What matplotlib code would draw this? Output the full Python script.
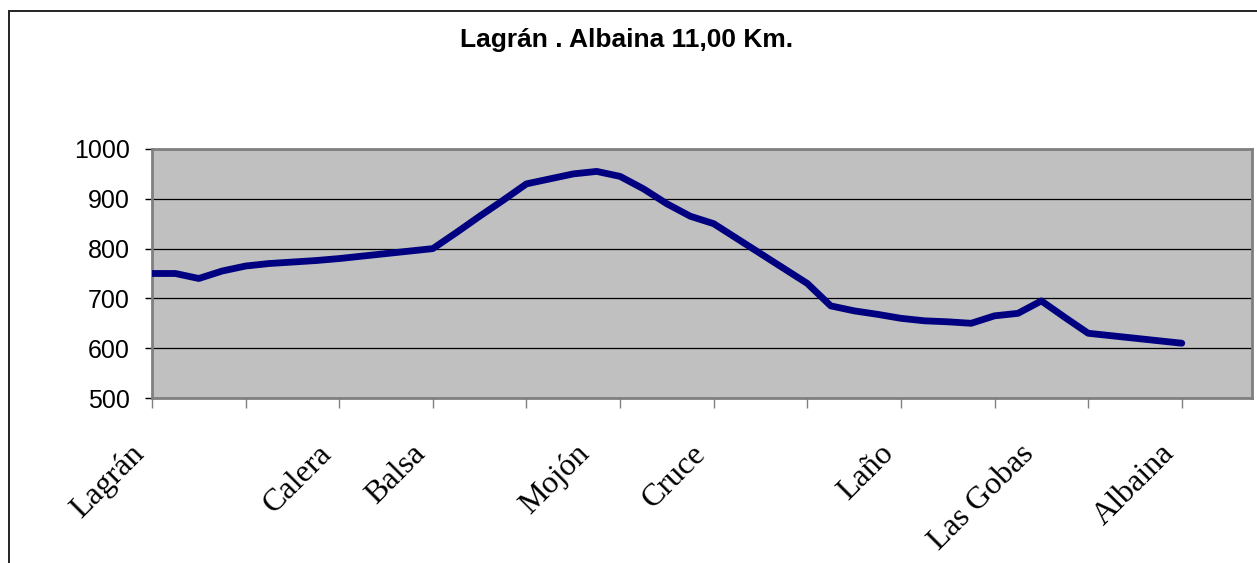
import matplotlib
matplotlib.use("Agg")
import matplotlib.pyplot as plt
from matplotlib.patches import Rectangle
from matplotlib.transforms import ScaledTranslation

# elevation profile, one value per category (Excel line chart)
elevation = [750, 750, 740, 755, 765, 770, 773, 776, 780, 785, 790, 795,
             800, 832, 865, 897, 930, 940, 950, 955, 945, 920, 890, 865,
             850, 820, 790, 760, 730, 685, 675, 668, 660, 655, 653, 650,
             665, 670, 695, 662, 630, 625, 620, 615, 610]
n_categories = 48  # three empty categories after the last point

place_names = ["Lagrán", "Calera", "Balsa", "Mojón", "Cruce", "Laño",
               "Las Gobas", "Albaina"]
place_idx = [0, 8, 12, 19, 24, 32, 38, 44]

y_ticks = [500, 600, 700, 800, 900, 1000]
title = "Lagrán . Albaina 11,00 Km."

W, H = 1257, 563
fig = plt.figure(figsize=(W / 100, H / 100), dpi=100)
fig.patch.set_facecolor("white")

# outer chart border (cut by the image on right/bottom)
fig.patches.append(Rectangle((9 / W, -0.1), 1.2, (H - 11) / H + 0.1,
                             transform=fig.transFigure, fill=False,
                             edgecolor="#222222", linewidth=1.4))

ax = fig.add_axes([152 / W, 1 - 398 / H, (1252 - 152) / W, (398 - 149) / H])
ax.set_facecolor("#C0C0C0")

x = list(range(len(elevation)))
ax.plot(x, elevation, color="#000080", linewidth=4.9,
        solid_joinstyle="round", solid_capstyle="round", zorder=3)

ax.set_xlim(0, n_categories - 1)
ax.set_ylim(500, 1000)
ax.set_yticks(y_ticks)
ax.set_yticklabels([str(v) for v in y_ticks], fontsize=18,
                   fontfamily="Liberation Sans")
ax.yaxis.grid(True, color="black", linewidth=0.9)
ax.set_axisbelow(True)

# tick marks every 4 categories, no labels
ax.xaxis.remove_overlapping_locs = False
ax.set_xticks(range(0, len(elevation), 4))
ax.set_xticklabels([])
ax.tick_params(axis="x", which="major", length=7, width=1, color="#808080",
               direction="out")
ax.tick_params(axis="y", length=5, width=1, color="black", pad=11)

# place names on minor ticks
ax.set_xticks(place_idx, minor=True)
ax.set_xticklabels(place_names, minor=True, rotation=45, ha="right",
                   va="center", rotation_mode="anchor", fontsize=23,
                   fontfamily="Liberation Serif")
ax.tick_params(axis="x", which="minor", length=0, pad=37)
shift = ScaledTranslation(-12 / 100, 0, fig.dpi_scale_trans)
for lbl in ax.get_xticklabels(minor=True):
    lbl.set_transform(lbl.get_transform() + shift)

for sp in ax.spines.values():
    sp.set_color("#808080")
    sp.set_linewidth(2)

fig.text(627 / W, 1 - 40 / H, title, ha="center", va="center",
         fontsize=19, fontweight="bold", fontfamily="Liberation Sans")

fig.savefig("out.png", dpi=100)
